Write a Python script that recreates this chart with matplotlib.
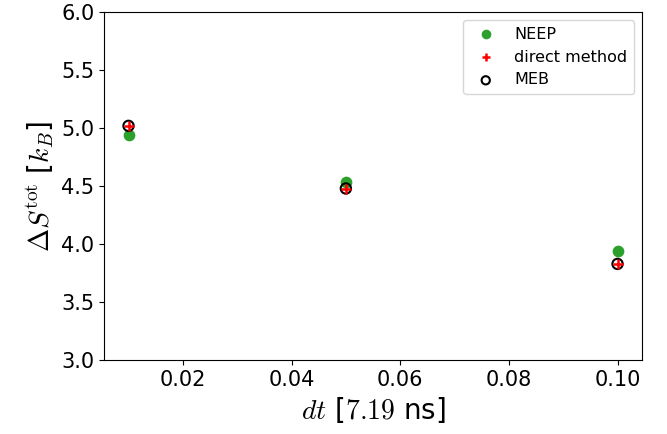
import matplotlib.pyplot as plt
import numpy as np

plt.rcParams['mathtext.fontset'] = 'cm'

dt = np.array([0.01, 0.05, 0.1])
neep = np.array([4.94, 4.54, 3.94])
direct = np.array([5.02, 4.48, 3.83])
meb = np.array([5.02, 4.48, 3.83])

fig, ax = plt.subplots(figsize=(6.67, 4.34), dpi=100)
fig.subplots_adjust(left=0.156, right=0.9625, top=0.972, bottom=0.17)

ax.scatter(dt, neep, c='tab:green', s=55, label='NEEP')
ax.scatter(dt, direct, c='red', marker='+', s=50, linewidths=1.8, label='direct method', zorder=3)
ax.scatter(dt, meb, facecolors='none', edgecolors='k', s=55, linewidths=1.5, label='MEB', zorder=2)

ax.set_ylim(3.0, 6.0)
ax.set_xticks([0.02, 0.04, 0.06, 0.08, 0.10])
ax.set_yticks([3.0, 3.5, 4.0, 4.5, 5.0, 5.5, 6.0])
ax.tick_params(labelsize=15)
ax.set_xlabel(r'$dt$ [$7.19$ ns]', fontsize=20)
ax.set_ylabel(r'$\Delta S^{\rm tot}$ [$k_B$]', fontsize=20)
ax.legend(fontsize=11.5, markerscale=0.8)

plt.savefig('out.png')
